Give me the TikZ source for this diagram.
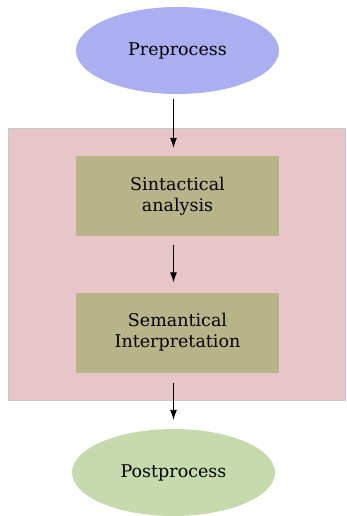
\documentclass[tikz,border=0pt]{standalone}
\usepackage{fontspec}
\setmainfont{DejaVu Serif}
\usetikzlibrary{shapes.geometric,arrows.meta}
\definecolor{prefill}{HTML}{ABAEF1}
\definecolor{postfill}{HTML}{C6DAAE}
\definecolor{groupfill}{HTML}{E8C5C9}
\definecolor{groupline}{HTML}{C8C8C8}
\definecolor{stagefill}{HTML}{B8B48A}
\tikzset{
  x=1pt, y=-1pt,
  every node/.style={font=\fontsize{17.5}{21}\selectfont, text=black, align=center, inner sep=0pt},
  terminal/.style={ellipse, minimum width=203pt, minimum height=87pt},
  stagebox/.style={rectangle, fill=stagefill, minimum width=203pt, minimum height=80pt},
  flow/.style={-{Latex[length=10pt,width=7pt]}, line width=0.9pt, black}
}
\begin{document}
\begin{tikzpicture}
\useasboundingbox (0,0) rectangle (346,516);
% grouping panel behind the two analysis stages
\node[rectangle, fill=groupfill, draw=groupline, line width=0.6pt,
      minimum width=337pt, minimum height=272pt] (group) at (177,264) {};
\node[terminal, fill=prefill] (pre) at (177.5,50.5) {Preprocess};
\node[stagebox] (syn) at (177.5,196) {Sintactical\\analysis};
\node[stagebox] (sem) at (177.5,332.5) {Semantical\\Interpretation};
\node[terminal, fill=postfill] (post) at (173.5,472.5) {Postprocess};
\draw[flow] ([xshift=-4pt,yshift=-5pt]pre.south) -- ([xshift=-4pt,yshift=8pt]syn.north);
\draw[flow] ([xshift=-4pt,yshift=-9pt]syn.south) -- ([xshift=-4pt,yshift=10pt]sem.north);
\draw[flow] ([xshift=-4pt,yshift=-10pt]sem.south) -- ([yshift=9pt]post.north);
\end{tikzpicture}
\end{document}
